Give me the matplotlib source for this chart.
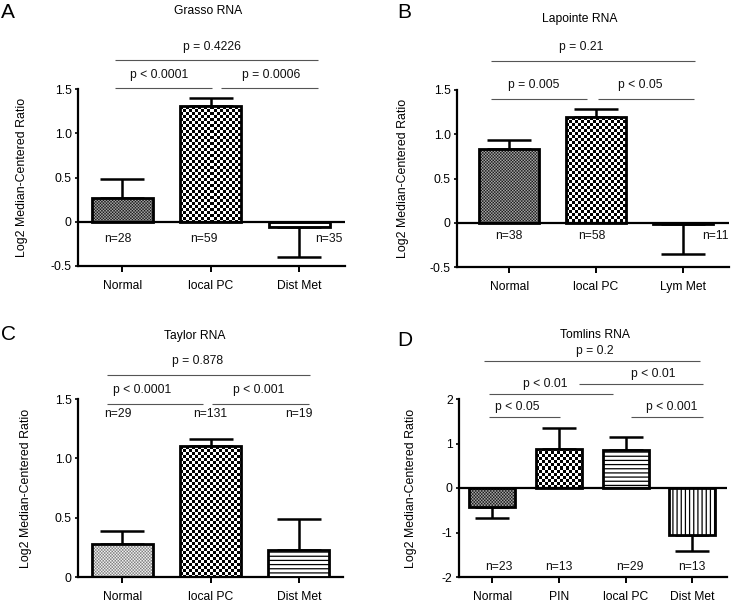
import numpy as np
import matplotlib
matplotlib.use('Agg')
import matplotlib.pyplot as plt

plt.rcParams['font.family'] = ['Liberation Sans', 'DejaVu Sans']
plt.rcParams['font.size'] = 8.7
plt.rcParams['hatch.linewidth'] = 0.9
plt.rcParams['hatch.color'] = '#333333'

W, H, DPI = 734, 603, 100

# ---------------- data ----------------
a_title = 'Grasso RNA'
a_cats = ['Normal', 'local PC', 'Dist Met']
a_vals = [0.27, 1.31, -0.06]
a_errs = [0.21, 0.09, 0.34]
a_n = [28, 59, 35]
a_pvals = ['p < 0.0001', 'p = 0.0006', 'p = 0.4226']

b_title = 'Lapointe RNA'
b_cats = ['Normal', 'local PC', 'Lym Met']
b_vals = [0.83, 1.19, -0.01]
b_errs = [0.10, 0.09, 0.34]
b_n = [38, 58, 11]
b_pvals = ['p = 0.005', 'p < 0.05', 'p = 0.21']

c_title = 'Taylor RNA'
c_cats = ['Normal', 'local PC', 'Dist Met']
c_vals = [0.28, 1.10, 0.23]
c_errs = [0.11, 0.06, 0.26]
c_n = [29, 131, 19]
c_pvals = ['p < 0.0001', 'p < 0.001', 'p = 0.878']

d_title = 'Tomlins RNA'
d_cats = ['Normal', 'PIN', 'local PC', 'Dist Met']
d_vals = [-0.43, 0.88, 0.85, -1.05]
d_errs = [0.25, 0.47, 0.30, 0.36]
d_n = [23, 13, 29, 13]
d_pvals = ['p < 0.05', 'p < 0.001', 'p < 0.01', 'p < 0.01', 'p = 0.2']

ylabel = 'Log2 Median-Centered Ratio'

fig = plt.figure(figsize=(W / DPI, H / DPI), dpi=DPI)


def pattern_image(kind, wpx, hpx):
    if kind == 'checker':
        cell, c0, c1 = 3.0, 0.0, 1.0
    elif kind == 'fine':
        cell, c0, c1 = 1.5, 0.05, 0.72
    else:  # dots
        cell, c0, c1 = 1.5, 0.45, 1.0
    ss = 2
    nx = max(1, int(round(wpx * ss)))
    ny = max(1, int(round(hpx * ss)))
    ix = (np.arange(nx) / ss // cell).astype(int)
    iy = (np.arange(ny) / ss // cell).astype(int)
    img = (ix[None, :] + iy[:, None]) % 2
    return np.where(img > 0, c1, c0)


def panel(box, title, title_xy, letter, letter_xy, cats, vals, errs, ns, pvals,
          xlim, ylim, yticks, yticklabels, zero_line, patterns, capsize,
          brackets, text_off, n_y, n_dx, ylabel_off):
    l, t, r, b = box
    ax = fig.add_axes([l / W, 1 - b / H, (r - l) / W, (b - t) / H])
    x = np.arange(len(cats))
    ax.set_xlim(*xlim)
    ax.set_ylim(*ylim)
    for s in ['top', 'right']:
        ax.spines[s].set_visible(False)
    for s in ['left', 'bottom']:
        ax.spines[s].set_linewidth(1.6)
    if zero_line:
        ax.axhline(0, color='black', lw=1.6, zorder=4)
    # error bars (one-sided)
    for xi, v, e in zip(x, vals, errs):
        lo = e if v < 0 else 0.0
        hi = e if v >= 0 else 0.0
        ax.errorbar([xi], [v], yerr=[[lo], [hi]], fmt='none', ecolor='black',
                    elinewidth=1.8, capsize=capsize, capthick=1.8, zorder=2)
    bars = []
    for xi, v, pat in zip(x, vals, patterns):
        hatch = None
        fc = 'white'
        if pat == 'hlines':
            hatch = '----'
        elif pat == 'vlines':
            hatch = '||||'
        else:
            fc = 'none'
        bc = ax.bar([xi], [v], width=0.69, facecolor=fc, edgecolor='black',
                    linewidth=2.0, hatch=hatch, zorder=3)
        bars.append((bc[0], pat))
    for bar, pat in bars:
        if pat in ('checker', 'fine', 'dots'):
            ext = bar.get_window_extent()
            img = pattern_image(pat, ext.width, ext.height)
            x0 = bar.get_x()
            x1 = x0 + bar.get_width()
            y0 = bar.get_y()
            y1 = y0 + bar.get_height()
            im = ax.imshow(img, extent=(x0, x1, min(y0, y1), max(y0, y1)),
                           cmap='gray', vmin=0, vmax=1, aspect='auto',
                           interpolation='nearest' if pat == 'checker' else 'antialiased',
                           zorder=2.5)
            im.set_clip_path(bar)
    ax.set_xlim(*xlim)
    ax.set_ylim(*ylim)
    ax.set_yticks(yticks)
    ax.set_yticklabels(yticklabels)
    ax.set_xticks(x)
    ax.set_xticklabels(cats)
    ax.tick_params(axis='y', length=2.5, width=1.2, pad=2)
    ax.tick_params(axis='x', length=4, width=1.4, pad=6)
    ax.set_ylabel(ylabel, fontsize=8.9)
    ax.yaxis.set_label_coords(ylabel_off / (r - l), 0.5)
    # n labels
    for xi, n, dx in zip(x, ns, n_dx):
        ax.text(xi + dx, n_y, f'n={n}', ha='center', va='center', color='#111')
    # significance brackets
    for (bx0, bx1, by, pi, tx) in brackets:
        ax.plot([bx0, bx1], [by, by], color='#555555', lw=0.8,
                clip_on=False, solid_capstyle='butt')
        ax.annotate(pvals[pi], xy=(tx, by), xytext=(0, text_off),
                    textcoords='offset pixels', ha='center', va='center',
                    color='#111', annotation_clip=False)
    fig.text(title_xy[0] / W, 1 - title_xy[1] / H, title, ha='center',
             va='center', fontsize=8.7)
    fig.text(letter_xy[0] / W, 1 - letter_xy[1] / H, letter, ha='left',
             va='center', fontsize=15)
    return ax


panel((78, 89, 345, 266), a_title, (208, 11), 'A', (1, 12),
      a_cats, a_vals, a_errs, a_n, a_pvals,
      (-0.5, 2.52), (-0.5, 1.5), [-0.5, 0, 0.5, 1.0, 1.5],
      ['-0.5', '0', '0.5', '1.0', '1.5'], True,
      ['fine', 'checker', 'hlines'], 16,
      [(-0.085, 1.01, 1.51, 0, 0.42), (1.12, 2.21, 1.51, 1, 1.69),
       (-0.085, 2.22, 1.825, 2, 1.02)], 13, -0.19, [-0.05, -0.08, 0.34], -50)

panel((457, 90, 729, 267), b_title, (580, 19), 'B', (397, 12),
      b_cats, b_vals, b_errs, b_n, b_pvals,
      (-0.6, 2.53), (-0.5, 1.5), [-0.5, 0, 0.5, 1.0, 1.5],
      ['-0.5', '0', '0.5', '1.0', '1.5'], True,
      ['fine', 'checker', 'hlines'], 16,
      [(-0.21, 0.90, 1.40, 0, 0.28), (1.02, 2.13, 1.40, 1, 1.51),
       (-0.21, 2.14, 1.83, 2, 0.83)], 14, -0.15, [0.0, -0.05, 0.37], -48)

panel((78, 399, 343, 577), c_title, (195, 336), 'C', (1, 335),
      c_cats, c_vals, c_errs, c_n, c_pvals,
      (-0.5, 2.5), (0, 1.5), [0, 0.5, 1.0, 1.5],
      ['0', '0.5', '1.0', '1.5'], False,
      ['dots', 'checker', 'hlines'], 16,
      [(-0.175, 0.91, 1.46, 0, 0.23), (1.02, 2.12, 1.46, 1, 1.55),
       (-0.175, 2.13, 1.70, 2, 0.85)], 14, 1.37, [-0.05, 0.0, 0.0], -46)

panel((459, 399, 727, 577), d_title, (595, 335), 'D', (397, 340),
      d_cats, d_vals, d_errs, d_n, d_pvals,
      (-0.5, 3.52), (-2, 2), [-2, -1, 0, 1, 2],
      ['-2', '-1', '0', '1', '2'], True,
      ['fine', 'checker', 'hlines', 'vlines'], 12,
      [(-0.05, 1.01, 1.60, 0, 0.37), (2.08, 3.16, 1.60, 1, 2.69),
       (-0.05, 1.81, 2.11, 2, 0.79), (1.30, 3.16, 2.34, 3, 2.41),
       (-0.13, 3.11, 2.85, 4, 1.54)], 10, -1.78, [0.1, 0.0, 0.06, 0.0], -42)

fig.savefig('out.png', dpi=DPI)
